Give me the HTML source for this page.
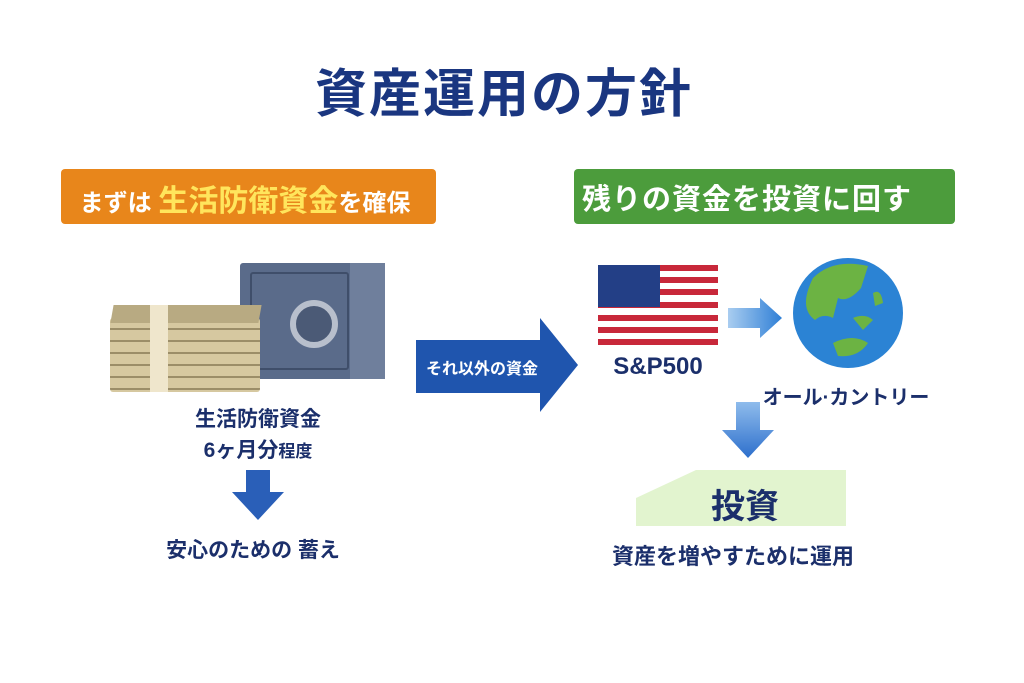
<!DOCTYPE html>
<html><head><meta charset="utf-8"><style>
body{margin:0;width:1024px;height:683px;background:#fff;position:relative;overflow:hidden;font-family:"Liberation Sans","Noto Sans CJK JP",sans-serif;font-weight:bold;color:#1b2f6b}
.a{position:absolute}
.c{transform:translateX(-50%);white-space:nowrap}
</style></head><body>
<div class="a c" style="left:504px;top:52px;font-size:52px;color:#1a3680;letter-spacing:2px">資産運用の方針</div>

<div class="a" style="left:61px;top:169px;width:375px;height:55px;background:#e8861b;border-radius:4px"></div>
<div class="a c" style="left:245px;top:176px;color:#fff;font-size:24px">まずは <span style="color:#ffe55c;font-size:30px">生活防衛資金</span>を確保</div>

<div class="a" style="left:574px;top:169px;width:381px;height:55px;background:#4c9c3c;border-radius:4px"></div>
<div class="a c" style="left:747px;top:176px;color:#fff;font-size:29px;letter-spacing:1px">残りの資金を投資に回す</div>

<!-- safe -->
<div class="a" style="left:240px;top:263px;width:145px;height:116px;background:#5a6b8a;border-radius:3px"></div>
<div class="a" style="left:350px;top:263px;width:35px;height:116px;background:#6f7f9c"></div>
<div class="a" style="left:250px;top:272px;width:95px;height:94px;border:2px solid #3f4e6a;border-radius:3px"></div>
<div class="a" style="left:290px;top:300px;width:36px;height:36px;border:6px solid #b8bfcc;border-radius:50%;background:#4b5a76"></div>
<!-- money -->
<div class="a" style="left:110px;top:318px;width:150px;height:74px;background:#d6c8a0;border-radius:3px;background-image:repeating-linear-gradient(#d6c8a0 0 10px,#9b8d68 10px 12px)"></div>
<div class="a" style="left:112px;top:305px;width:148px;height:18px;background:#b8aa82;transform:skewX(-10deg)"></div>
<div class="a" style="left:150px;top:305px;width:18px;height:87px;background:#efe6cc"></div>
<div class="a c" style="left:258px;top:403px;font-size:21px">生活防衛資金</div>
<div class="a c" style="left:258px;top:434px;font-size:21px">6ヶ月分<span style="font-size:17px">程度</span></div>
<svg class="a" style="left:232px;top:470px" width="52" height="52"><polygon points="14,0 38,0 38,22 52,22 26,50 0,22 14,22" fill="#2a5fb8"/></svg>
<div class="a c" style="left:253px;top:534px;font-size:21px">安心のための 蓄え</div>

<!-- big arrow -->
<svg class="a" style="left:416px;top:318px" width="164" height="96"><polygon points="0,22 124,22 124,0 162,47 124,94 124,75 0,75" fill="#1f55ae"/></svg>
<div class="a" style="left:426px;top:355px;color:#fff;font-size:16px">それ以外の資金</div>

<!-- flag -->
<svg class="a" style="left:598px;top:265px" width="120" height="80">
<g fill="#c8283a"><rect y="0" width="120" height="6"/><rect y="12" width="120" height="6"/><rect y="24" width="120" height="6"/><rect y="37" width="120" height="6"/><rect y="50" width="120" height="6"/><rect y="62" width="120" height="6"/><rect y="74" width="120" height="6"/></g>
<rect width="62" height="42" fill="#233f86"/></svg>
<div class="a c" style="left:658px;top:353px;font-size:24px">S&amp;P500</div>
<svg class="a" style="left:728px;top:298px" width="56" height="40"><defs><linearGradient id="g" x1="0" x2="1"><stop offset="0" stop-color="#a9cdf0"/><stop offset="1" stop-color="#2f7fd6"/></linearGradient></defs><polygon points="0,10 32,10 32,0 54,20 32,40 32,30 0,30" fill="url(#g)"/></svg>
<svg class="a" style="left:793px;top:258px" width="110" height="110">
<circle cx="55" cy="55" r="55" fill="#2b83d4"/>
<path d="M20,20 Q40,0 75,8 L68,30 Q55,45 45,40 L40,60 Q30,55 22,62 Q5,50 20,20Z" fill="#6cb343"/>
<path d="M60,60 Q72,55 80,62 L70,72 Z M40,85 Q60,75 75,85 Q65,100 45,98Z M80,35 Q88,30 90,45 L82,48Z" fill="#6cb343"/>
</svg>
<div class="a c" style="left:846px;top:381px;font-size:20px">オール·カントリー</div>
<svg class="a" style="left:722px;top:402px" width="52" height="58"><defs><linearGradient id="h" y1="0" y2="1" x1="0" x2="0"><stop offset="0" stop-color="#8fbcec"/><stop offset="1" stop-color="#2d6fcc"/></linearGradient></defs><polygon points="14,0 38,0 38,28 52,28 26,56 0,28 14,28" fill="url(#h)"/></svg>
<svg class="a" style="left:636px;top:470px" width="210" height="56"><polygon points="0,28 60,0 210,0 210,56 0,56" fill="#e2f4cf"/></svg>
<div class="a c" style="left:745px;top:479px;font-size:34px">投資</div>
<div class="a c" style="left:733px;top:539px;font-size:22px">資産を増やすために運用</div>
</body></html>
